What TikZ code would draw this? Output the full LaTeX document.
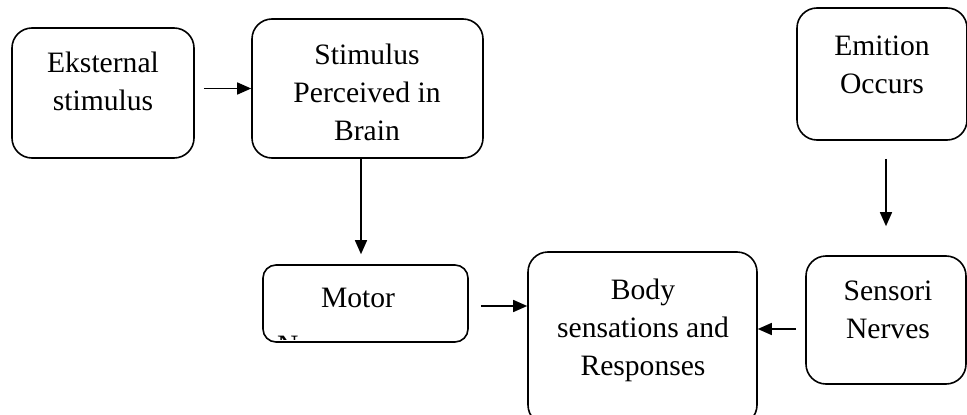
\documentclass[tikz,border=0pt]{standalone}
\usepackage{fontspec}
\setmainfont{Liberation Serif}
\usetikzlibrary{arrows.meta}
\begin{document}
\begin{tikzpicture}[x=1pt,y=-1pt,
  box/.style={draw, line width=1.6pt, rounded corners=20pt, inner sep=0pt},
  smallbox/.style={draw, line width=1.6pt, rounded corners=13pt, inner sep=0pt},
  txt/.style={align=center, anchor=base, inner sep=0pt,
    font=\fontsize{29.6}{38}\selectfont},
  arr/.style={line width=1.5pt, -{Triangle[length=14pt,width=12pt]}}]
\useasboundingbox (0,0) rectangle (967,415);
\begin{scope}
\clip (0,0) rectangle (967,415);
% boxes
\node[box, minimum width=182pt, minimum height=130pt] (ek) at (103,93) {};
\node[box, minimum width=231pt, minimum height=139pt] (st) at (367.5,88.5) {};
\node[box, minimum width=170pt, minimum height=132pt] (em) at (882,74) {};
\node[smallbox, minimum width=205pt, minimum height=77pt] (mo) at (365.5,303.5) {};
\node[box, minimum width=229pt, minimum height=173pt] (bo) at (642.5,338.5) {};
\node[box, minimum width=160pt, minimum height=128pt] (se) at (886,320) {};
% texts (anchored at the baseline of the last line)
\node[txt] (ekt) at (103,110) {Eksternal\\stimulus};
\node[txt] (stt) at (367,140) {Stimulus\\Perceived in\\Brain};
\node[txt] (emt) at (882,93) {Emition\\Occurs};
\node[txt] (bot) at (643,375) {Body\\sensations and\\Responses};
\node[txt] (set) at (888,338) {Sensori\\Nerves};
\node[txt] (mot) at (358,307) {Motor};
\begin{scope}
\clip (260,250) rectangle (470,339);
\node[txt, anchor=base west] (mon) at (277,355) {N};
\end{scope}
\end{scope}
% connectors
\draw[arr, shorten <=9pt] (ek.east |- st.west) -- (st.west);
\draw[arr, shorten >=10pt] ([xshift=-6.5pt]st.south) -- ([xshift=-6.5pt]st.south |- mo.north);
\draw[arr, shorten <=12pt] ([yshift=-2.5pt]mo.east) -- ([yshift=-2.5pt]mo.east -| bo.west);
\draw[arr, shorten <=9pt] ([yshift=-9pt]se.west) -- ([yshift=-9pt]se.west -| bo.east);
\draw[arr, shorten <=18pt, shorten >=29pt] (em.south -| se.north) -- (se.north);
\end{tikzpicture}
\end{document}
